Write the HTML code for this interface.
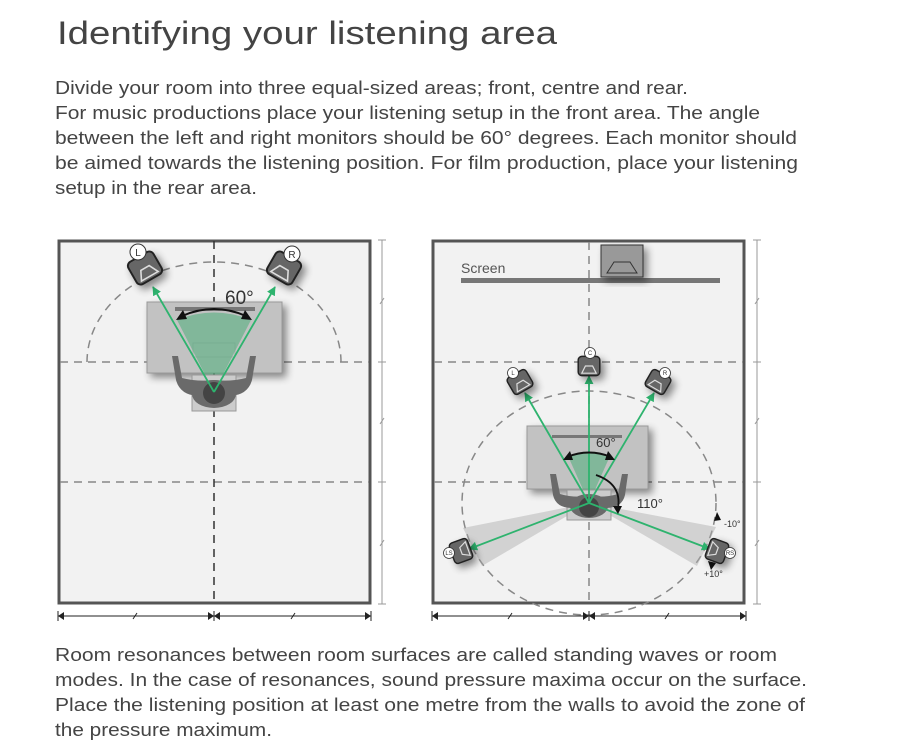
<!DOCTYPE html>
<html><head><meta charset="utf-8"><style>
html,body{margin:0;padding:0;background:#fff;}
svg{display:block;font-family:"Liberation Sans",sans-serif;}
</style></head><body>
<svg width="898" height="750" viewBox="0 0 898 750" xmlns="http://www.w3.org/2000/svg">
<defs>
<filter id="sh" x="-30%" y="-30%" width="160%" height="160%"><feGaussianBlur in="SourceAlpha" stdDeviation="4"/><feOffset dx="4" dy="4"/><feComponentTransfer><feFuncA type="linear" slope="0.45"/></feComponentTransfer><feMerge><feMergeNode/><feMergeNode in="SourceGraphic"/></feMerge></filter>
<marker id="ga" viewBox="0 0 10 10" refX="9" refY="5" markerWidth="5" markerHeight="5" orient="auto"><path d="M0,0 L10,5 L0,10z" fill="#2eb36e"/></marker>
<g id="spk"><rect x="-9" y="-8" width="18" height="16" rx="3" fill="#666" stroke="#222" stroke-width="1.2"/><path d="M-6,6 L6,6 L3,0 L-3,0z" fill="none" stroke="#ddd" stroke-width="1"/></g>
</defs>

<g fill="#444">
<text x="57" y="44" font-size="32" textLength="500" lengthAdjust="spacingAndGlyphs">Identifying your listening area</text>
<g font-size="18">
<text x="55" y="94" textLength="633" lengthAdjust="spacingAndGlyphs">Divide your room into three equal-sized areas; front, centre and rear.</text>
<text x="55" y="119" textLength="705" lengthAdjust="spacingAndGlyphs">For music productions place your listening setup in the front area. The angle</text>
<text x="55" y="144" textLength="742" lengthAdjust="spacingAndGlyphs">between the left and right monitors should be 60° degrees. Each monitor should</text>
<text x="55" y="169" textLength="743" lengthAdjust="spacingAndGlyphs">be aimed towards the listening position. For film production, place your listening</text>
<text x="55" y="194" textLength="202" lengthAdjust="spacingAndGlyphs">setup in the rear area.</text>
<text x="55" y="661" textLength="722" lengthAdjust="spacingAndGlyphs">Room resonances between room surfaces are called standing waves or room</text>
<text x="55" y="686" textLength="752" lengthAdjust="spacingAndGlyphs">modes. In the case of resonances, sound pressure maxima occur on the surface.</text>
<text x="55" y="711" textLength="750" lengthAdjust="spacingAndGlyphs">Place the listening position at least one metre from the walls to avoid the zone of</text>
<text x="55" y="736" textLength="217" lengthAdjust="spacingAndGlyphs">the pressure maximum.</text>
</g></g>

<!-- LEFT ROOM -->
<rect x="59" y="241" width="311" height="362" fill="#f2f2f2" stroke="#555" stroke-width="3"/>
<g stroke="#888" stroke-width="1.5" stroke-dasharray="8,6" fill="none">
<line x1="60" y1="362" x2="369" y2="362"/><line x1="60" y1="482" x2="369" y2="482"/>
<path d="M87,362 A127,100 0 0 1 341,362"/>
</g>
<line x1="214" y1="241" x2="214" y2="603" stroke="#333" stroke-width="1.5" stroke-dasharray="8,6"/>
<rect x="147" y="302" width="135" height="71" fill="#c2c2c2" stroke="#999" filter="url(#sh)"/>
<rect x="175" y="307" width="80" height="4" fill="#777"/>
<rect x="193" y="343" width="42" height="14" fill="none" stroke="#aaa" stroke-width="0.8"/>
<path d="M214,392 L177,320 Q214,305 251,320z" fill="#4caf7a" opacity="0.55"/>
<g fill="#6a6a6a">
<rect x="192" y="375" width="44" height="36" fill="#ccc" stroke="#999"/>
<path d="M176,380 Q180,395 198,396 L230,396 Q248,395 252,380 L256,356 L250,356 L246,378 Q230,382 214,380 Q198,382 182,378 L178,356 L172,356z"/>
<ellipse cx="214" cy="394" rx="22" ry="14"/>
</g>
<circle cx="214" cy="393" r="11" fill="#444"/>
<line x1="214" y1="392" x2="153" y2="287" stroke="#2eb36e" stroke-width="1.8" marker-end="url(#ga)"/>
<line x1="214" y1="392" x2="275" y2="287" stroke="#2eb36e" stroke-width="1.8" marker-end="url(#ga)"/>
<path d="M182,316 Q214,302 246,316" fill="none" stroke="#111" stroke-width="2"/>
<path d="M176,320 l7,-10 l4,9z M252,320 l-7,-10 l-4,9z" fill="#111"/>
<text x="225" y="304" font-size="19" fill="#333">60°</text>
<g filter="url(#sh)">
<use href="#spk" transform="translate(145,268) rotate(-30) scale(1.6)"/>
<use href="#spk" transform="translate(284,268) rotate(30) scale(1.6)"/>
</g>
<circle cx="138" cy="252" r="8" fill="#fff" stroke="#333"/><text x="138" y="256" font-size="10" text-anchor="middle" fill="#333">L</text>
<circle cx="292" cy="254" r="8" fill="#fff" stroke="#333"/><text x="292" y="258" font-size="10" text-anchor="middle" fill="#333">R</text>
<!-- left dims -->
<g stroke="#999" stroke-width="1"><line x1="382" y1="240" x2="382" y2="604"/>
<line x1="378" y1="240" x2="386" y2="240"/><line x1="378" y1="604" x2="386" y2="604"/>
<line x1="378" y1="362" x2="386" y2="362"/><line x1="378" y1="482" x2="386" y2="482"/>
<line x1="380" y1="304" x2="384" y2="298"/><line x1="380" y1="424" x2="384" y2="418"/><line x1="380" y1="546" x2="384" y2="540"/></g>
<g stroke="#222" stroke-width="1"><line x1="58" y1="616" x2="371" y2="616"/>
<line x1="58" y1="611" x2="58" y2="621"/><line x1="214" y1="611" x2="214" y2="621"/><line x1="371" y1="611" x2="371" y2="621"/>
<line x1="133" y1="619" x2="137" y2="613"/><line x1="291" y1="619" x2="295" y2="613"/></g>
<path d="M58,616 l6,-4 v8z M214,616 l-6,-4 v8z M214,616 l6,-4 v8z M371,616 l-6,-4 v8z" fill="#222"/>

<!-- RIGHT ROOM -->
<rect x="433" y="241" width="311" height="362" fill="#f2f2f2" stroke="#555" stroke-width="3"/>
<g stroke="#888" stroke-width="1.5" stroke-dasharray="8,6" fill="none">
<line x1="434" y1="362" x2="743" y2="362"/><line x1="434" y1="482" x2="743" y2="482"/>
<line x1="589" y1="242" x2="589" y2="602"/>
<ellipse cx="589" cy="503" rx="127" ry="112"/>
</g>
<text x="461" y="273" font-size="14" fill="#555">Screen</text>
<rect x="461" y="278" width="259" height="5" fill="#777"/>
<g filter="url(#sh)"><rect x="601" y="245" width="42" height="32" fill="#999" stroke="#333"/><path d="M607,273 L637,273 L630,262 L614,262z" fill="none" stroke="#333"/></g>
<rect x="527" y="426" width="121" height="63" fill="#c2c2c2" stroke="#999" filter="url(#sh)"/>
<rect x="552" y="435" width="70" height="3" fill="#777"/>
<path d="M589,503 L463,528 L482,566 z" fill="#aaa" opacity="0.45"/>
<path d="M589,503 L716,527 L697,566 z" fill="#aaa" opacity="0.45"/>
<path d="M589,503 L568,456 Q589,448 610,456z" fill="#4caf7a" opacity="0.55"/>
<g fill="#6a6a6a">
<rect x="567" y="490" width="44" height="30" fill="#ccc" stroke="#999"/>
<path d="M553,495 Q556,508 572,508 L606,508 Q622,508 625,495 L628,474 L622,474 L618,494 Q605,498 589,496 Q573,498 560,494 L556,474 L550,474z"/>
<ellipse cx="589" cy="506" rx="19" ry="12"/>
</g>
<circle cx="589" cy="507" r="10" fill="#444"/>
<g stroke="#2eb36e" stroke-width="1.8" marker-end="url(#ga)">
<line x1="589" y1="503" x2="589" y2="376"/>
<line x1="589" y1="503" x2="525" y2="393"/>
<line x1="589" y1="503" x2="654" y2="393"/>
<line x1="589" y1="503" x2="469" y2="549"/>
<line x1="589" y1="503" x2="710" y2="549"/>
</g>
<path d="M567,457 Q589,448 611,457" fill="none" stroke="#111" stroke-width="2"/>
<path d="M563,460 l7,-9 l3,9z M615,460 l-7,-9 l-3,9z" fill="#111"/>
<path d="M596,475 Q622,484 618,508" fill="none" stroke="#111" stroke-width="1.8"/>
<path d="M618,514 l-5,-8 l9,0z" fill="#111"/>
<text x="596" y="447" font-size="13" fill="#333">60°</text>
<text x="637" y="508" font-size="13" fill="#333">110°</text>
<path d="M721,520 l-4,-8 l-3,9z M711,570 l-3,-9 l8,2z" fill="#111"/>
<text x="724" y="527" font-size="9" fill="#333">-10°</text>
<text x="704" y="577" font-size="9" fill="#333">+10°</text>
<g filter="url(#sh)">
<use href="#spk" transform="translate(589,366) scale(1.2)"/>
<use href="#spk" transform="translate(520,382) rotate(-30) scale(1.2)"/>
<use href="#spk" transform="translate(658,382) rotate(30) scale(1.2)"/>
<use href="#spk" transform="translate(461,551) rotate(-110) scale(1.2)"/>
<use href="#spk" transform="translate(717,551) rotate(110) scale(1.2)"/>
</g>
<g fill="#fff" stroke="#333" stroke-width="0.8"><circle cx="590" cy="353" r="5.5"/><circle cx="513" cy="373" r="5.5"/><circle cx="665" cy="373" r="5.5"/><circle cx="449" cy="553" r="5.5"/><circle cx="730" cy="553" r="5.5"/></g>
<g font-size="6" text-anchor="middle" fill="#333"><text x="590" y="355">C</text><text x="513" y="375">L</text><text x="665" y="375">R</text><text x="449" y="555">LS</text><text x="730" y="555">RS</text></g>
<!-- right dims -->
<g stroke="#999" stroke-width="1"><line x1="757" y1="240" x2="757" y2="604"/>
<line x1="753" y1="240" x2="761" y2="240"/><line x1="753" y1="604" x2="761" y2="604"/>
<line x1="753" y1="362" x2="761" y2="362"/><line x1="753" y1="482" x2="761" y2="482"/>
<line x1="755" y1="304" x2="759" y2="298"/><line x1="755" y1="424" x2="759" y2="418"/><line x1="755" y1="546" x2="759" y2="540"/></g>
<g stroke="#222" stroke-width="1"><line x1="432" y1="616" x2="746" y2="616"/>
<line x1="432" y1="611" x2="432" y2="621"/><line x1="589" y1="611" x2="589" y2="621"/><line x1="746" y1="611" x2="746" y2="621"/>
<line x1="508" y1="619" x2="512" y2="613"/><line x1="665" y1="619" x2="669" y2="613"/></g>
<path d="M432,616 l6,-4 v8z M589,616 l-6,-4 v8z M589,616 l6,-4 v8z M746,616 l-6,-4 v8z" fill="#222"/>
</svg>
</body></html>
